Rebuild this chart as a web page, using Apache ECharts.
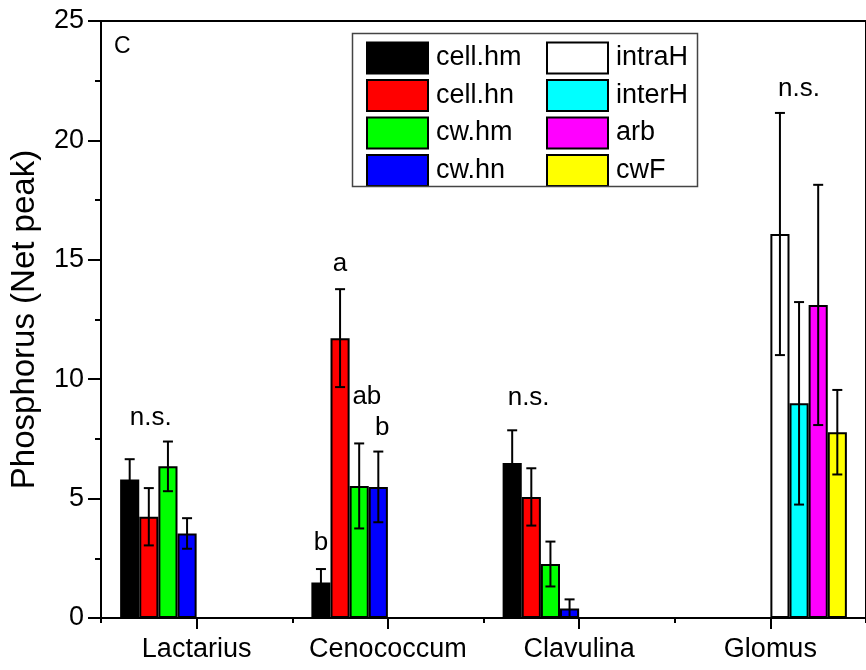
<!DOCTYPE html>
<html><head><meta charset="utf-8">
<script src="https://cdn.jsdelivr.net/npm/echarts@6/dist/echarts.min.js"></script>
<style>html,body{margin:0;padding:0;background:#fff}#c{width:866px;height:670px}</style>
</head><body><div id="c"></div>
<script>
// ---- data ----
const categories = ['Lactarius', 'Cenococcum', 'Clavulina', 'Glomus'];
const seriesNames = ['cell.hm', 'cell.hn', 'cw.hm', 'cw.hn', 'intraH', 'interH', 'arb', 'cwF'];
const cellHm = [5.80, 1.49, 6.49, null];
const cellHn = [4.24, 11.72, 5.07, null];
const cwHm   = [6.35, 5.53, 2.26, null];
const cwHn   = [3.54, 5.49, 0.40, null];
const intraH = [null, null, null, 16.08];
const interH = [null, null, null, 8.99];
const arb    = [null, null, null, 13.11];
const cwF    = [null, null, null, 7.78];
const cellHmErr = [0.85, 0.56, 1.37, null];
const cellHnErr = [1.20, 2.05, 1.20, null];
const cwHmErr   = [1.04, 1.78, 0.94, null];
const cwHnErr   = [0.64, 1.48, 0.38, null];
const intraHErr = [null, null, null, 5.07];
const interHErr = [null, null, null, 4.24];
const arbErr    = [null, null, null, 5.03];
const cwFErr    = [null, null, null, 1.77];
// significance letters: category index, bar slot, value height, text
const annotCat   = [0, 1, 1, 1, 1, 2, 3];
const annotSlot  = [1.1, 0, 1, 2.4, 3.2, 0.86, 5.0];
const annotY     = [8.40, 3.16, 14.82, 9.28, 7.98, 9.22, 22.14];
const annotText  = ['n.s.', 'b', 'a', 'ab', 'b', 'n.s.', 'n.s.'];
const yTicks = [0, 5, 10, 15, 20, 25];

// ---- styling ----
const FONT = '"Liberation Sans", Arial, sans-serif';
const colors = ['#000000', '#FF0000', '#00FF00', '#0000FF', '#FFFFFF', '#00FFFF', '#FF00FF', '#FFFF00'];
const values = [cellHm, cellHn, cwHm, cwHn, intraH, interH, arb, cwF];
const errors = [cellHmErr, cellHnErr, cwHmErr, cwHnErr, intraHErr, interHErr, arbErr, cwFErr];
const BAR_FRAC = 0.1;

const barSeries = seriesNames.map((n, k) => ({
  name: n, type: 'bar', data: values[k], barWidth: (BAR_FRAC * 100) + '%', barGap: '0%',
  itemStyle: { color: colors[k], borderColor: '#000', borderWidth: 2 },
  emphasis: { disabled: true }, z: 2
}));

const errData = [];
values.forEach((arr, k) => arr.forEach((v, i) => {
  if (v != null) errData.push([i, v, k, errors[k][i]]);
}));
const annData = annotText.map((t, j) => [annotCat[j], annotY[j], annotSlot[j], j]);

function slotX(api, cat, slot) {
  const c = api.coord([cat, 0]);
  const bw = api.size([1, 0])[0];
  return c[0] + (slot - 3.5) * bw * BAR_FRAC;
}

const chart = echarts.init(document.getElementById('c'), null, { renderer: 'canvas' });
chart.setOption({
  animation: false,
  backgroundColor: '#fff',
  textStyle: { fontFamily: FONT },
  grid: { left: 101, top: 21, width: 772, height: 597, show: true, borderColor: '#000', borderWidth: 2, backgroundColor: 'transparent' },
  xAxis: [{
    type: 'category', data: categories,
    axisLine: { lineStyle: { color: '#000', width: 2 } },
    axisTick: { show: true, alignWithLabel: true, inside: false, length: 11, lineStyle: { color: '#000', width: 2 } },
    axisLabel: { color: '#000', fontSize: 27, fontFamily: FONT, margin: 18, interval: 0 },
    splitLine: { show: false }
  }, {
    type: 'category', data: categories, position: 'bottom',
    axisLine: { show: false },
    axisTick: { show: true, length: 5, lineStyle: { color: '#000', width: 2 } },
    axisLabel: { show: false }, splitLine: { show: false }
  }],
  yAxis: {
    type: 'value', min: yTicks[0], max: yTicks[yTicks.length - 1], interval: 5,
    name: 'Phosphorus (Net peak)', nameLocation: 'middle', nameGap: 60,
    nameTextStyle: { color: '#000', fontSize: 33, fontFamily: FONT },
    axisLine: { show: true, lineStyle: { color: '#000', width: 2 } },
    axisTick: { show: true, length: 13, lineStyle: { color: '#000', width: 2 } },
    minorTick: { show: true, splitNumber: 2, length: 6, lineStyle: { color: '#000', width: 2 } },
    axisLabel: { color: '#000', fontSize: 27, fontFamily: FONT, margin: 17 },
    splitLine: { show: false }
  },
  legend: [{
    data: seriesNames.slice(0, 4), orient: 'vertical', left: 366, top: 41.5, padding: 0,
    itemWidth: 61, itemHeight: 31, itemGap: 4.5, selectedMode: false, icon: 'rect',
    itemStyle: { borderColor: '#000', borderWidth: 2 },
    textStyle: { color: '#000', fontSize: 27, fontFamily: FONT, padding: [0, 0, 0, 3] }
  }, {
    data: seriesNames.slice(4), orient: 'vertical', left: 546, top: 41.5, padding: 0,
    itemWidth: 61, itemHeight: 31, itemGap: 4.5, selectedMode: false, icon: 'rect',
    itemStyle: { borderColor: '#000', borderWidth: 2 },
    textStyle: { color: '#000', fontSize: 27, fontFamily: FONT, padding: [0, 0, 0, 3] }
  }],
  graphic: [
    { type: 'rect', shape: { x: 352.5, y: 33.5, width: 345, height: 153 }, style: { fill: 'none', stroke: '#444', lineWidth: 1.5 }, z: 10 },
    { type: 'text', x: 114, y: 47, style: { text: 'C', fontSize: 23, fontFamily: FONT, fill: '#000', verticalAlign: 'middle' }, z: 10 }
  ],
  series: barSeries.concat([{
    type: 'custom', name: 'err', data: errData, encode: { x: 0, y: 1 }, z: 5, clip: false,
    renderItem: function (params, api) {
      const cat = api.value(0), v = api.value(1), k = api.value(2), e = api.value(3);
      const x = slotX(api, cat, k);
      const yt = api.coord([cat, v + e])[1], yb = api.coord([cat, v - e])[1];
      const st = { stroke: '#000', lineWidth: 2 };
      return { type: 'group', children: [
        { type: 'line', shape: { x1: x, y1: yt, x2: x, y2: yb }, style: st },
        { type: 'line', shape: { x1: x - 5, y1: yt, x2: x + 5, y2: yt }, style: st },
        { type: 'line', shape: { x1: x - 5, y1: yb, x2: x + 5, y2: yb }, style: st }
      ]};
    }
  }, {
    type: 'custom', name: 'ann', data: annData, encode: { x: 0, y: 1 }, z: 6, clip: false,
    renderItem: function (params, api) {
      const cat = api.value(0), y = api.value(1), slot = api.value(2), j = api.value(3);
      const x = slotX(api, cat, slot);
      const p = api.coord([cat, y]);
      return { type: 'text', style: { text: annotText[j], x: x, y: p[1], fontSize: 26, fontFamily: FONT, fill: '#000', align: 'center', verticalAlign: 'middle' } };
    }
  }])
});
</script></body></html>
